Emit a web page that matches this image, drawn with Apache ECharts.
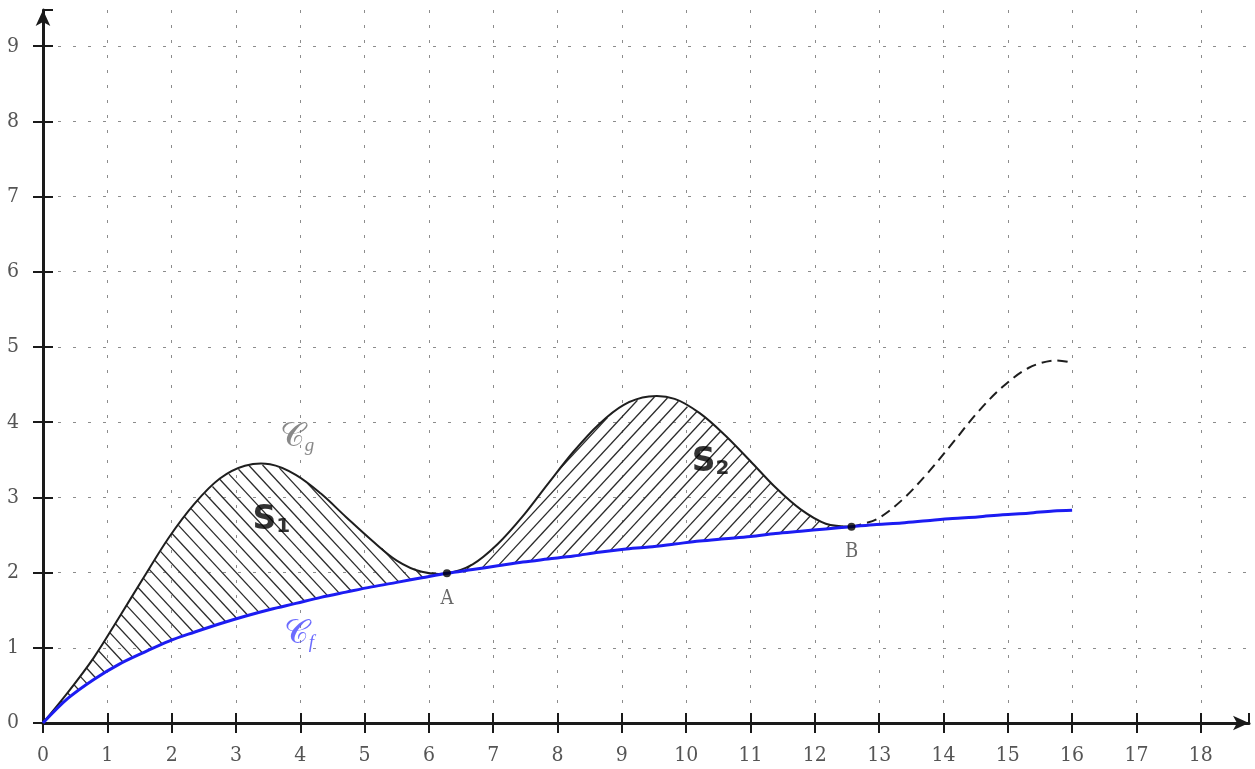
<!DOCTYPE html>
<html>
<head>
<meta charset="utf-8">
<script src="https://cdn.jsdelivr.net/npm/echarts@6/dist/echarts.min.js"></script>
<style>html,body{margin:0;padding:0;background:#fff}#c{width:1255px;height:769px}</style>
</head>
<body>
<div id="c"></div>
<script>
// x positions (multiples of pi/8, plus the end at 16)
const xs = [0, 0.39, 0.79, 1.18, 1.57, 1.96, 2.36, 2.75, 3.14, 3.53, 3.93, 4.32, 4.71, 5.11, 5.50, 5.89,
  6.28, 6.68, 7.07, 7.46, 7.85, 8.25, 8.64, 9.03, 9.42, 9.82, 10.21, 10.60, 11.00, 11.39, 11.78, 12.17,
  12.57, 12.96, 13.35, 13.74, 14.14, 14.53, 14.92, 15.32, 15.71, 16];
// blue curve C_f
const fVals = [0, 0.33, 0.58, 0.78, 0.94, 1.09, 1.21, 1.32, 1.42, 1.51, 1.59, 1.67, 1.74, 1.81, 1.87, 1.93,
  1.99, 2.04, 2.09, 2.14, 2.18, 2.22, 2.27, 2.31, 2.34, 2.38, 2.42, 2.45, 2.48, 2.52, 2.55, 2.58,
  2.61, 2.64, 2.66, 2.69, 2.72, 2.74, 2.77, 2.79, 2.82, 2.83];
// black curve C_g
const gVals = [0, 0.41, 0.87, 1.40, 1.94, 2.47, 2.92, 3.25, 3.42, 3.44, 3.30, 3.05, 2.74, 2.43, 2.16, 2.01,
  1.99, 2.11, 2.38, 2.75, 3.18, 3.61, 3.97, 4.23, 4.34, 4.31, 4.12, 3.83, 3.48, 3.13, 2.84, 2.65,
  2.61, 2.71, 2.96, 3.31, 3.72, 4.13, 4.47, 4.72, 4.82, 4.79];
const idxA = 16;   // index of point A in xs
const idxB = 32;   // index of point B in xs
const pointNames = ['A', 'B'];
const xTickLabels = ['0','1','2','3','4','5','6','7','8','9','10','11','12','13','14','15','16','17','18'];
const yTickLabels = ['0','1','2','3','4','5','6','7','8','9'];
// annotation texts at data coordinates
const annotations = [
  [3.95, 3.80, 'Cg'],
  [3.98, 1.18, 'Cf'],
  [3.55, 2.70, 'S1'],
  [10.38, 3.47, 'S2']
];

const SMOOTH = 0.34;

// hatching between C_g (top) and C_f (bottom) for data indices a..b, drawn through the axes' scales
function makeHatch(a, b, dir) {
  return function (params, api) {
    const top = [], bot = [];
    for (let k = a; k <= b; k++) {
      top.push(api.coord([xs[k], gVals[k]]));
      bot.push(api.coord([xs[k], fVals[k]]));
    }
    const at = (arr, px) => {
      for (let i = 0; i < arr.length - 1; i++) {
        const p = arr[i], q = arr[i + 1];
        if (px >= p[0] && px <= q[0]) {
          const t = (px - p[0]) / ((q[0] - p[0]) || 1);
          return p[1] + t * (q[1] - p[1]);
        }
      }
      return NaN;
    };
    const xL = top[0][0], xR = top[top.length - 1][0];
    const slope = 1.08 * dir;
    const inside = (px, c) => {
      const py = slope * px + c;
      return py >= at(top, px) - 0.2 && py <= at(bot, px) - 0.3;
    };
    const ys = top.concat(bot).map(p => p[1]);
    const yT = Math.min(...ys), yB = Math.max(...ys);
    const cands = [yT - slope * xL, yT - slope * xR, yB - slope * xL, yB - slope * xR];
    const cMin = Math.min(...cands), cMax = Math.max(...cands);
    const step = 14 * Math.abs(slope);
    const children = [];
    const push = (x1, x2, c) => {
      if (x2 - x1 < 0.8) return;
      children.push({ type: 'line', shape: { x1: x1, y1: slope * x1 + c, x2: x2, y2: slope * x2 + c },
        style: { stroke: '#2b2b2b', lineWidth: 1.3 } });
    };
    for (let c = Math.ceil(cMin / step) * step; c <= cMax; c += step) {
      let inSeg = false, sx = 0, prev = xL;
      for (let px = xL; px <= xR + 1e-6; px += 0.5) {
        const ins = inside(px, c);
        if (ins && !inSeg) { inSeg = true; sx = px; }
        else if (!ins && inSeg) { inSeg = false; push(sx, prev, c); }
        prev = px;
      }
      if (inSeg) push(sx, prev, c);
    }
    return { type: 'group', children: children };
  };
}

// smooth curve through the data points, positioned by the axes
function curve(arr, a, b, style, z) {
  return {
    type: 'custom', z: z, silent: true,
    data: [[xs[a], arr[a]]],
    renderItem: (params, api) => ({
      type: 'polyline',
      shape: { points: xs.slice(a, b + 1).map((x, i) => api.coord([x, arr[a + i]])), smooth: SMOOTH },
      style: Object.assign({ fill: 'none', lineJoin: 'round', lineCap: 'butt' }, style)
    })
  };
}

const last = xs.length - 1;
const lblFont = "'DejaVu Serif Condensed', 'Liberation Serif', serif";
const isInt = v => Math.abs(v - Math.round(v)) < 1e-6;

const annStyles = {
  Cg: { formatter: '{c|\u{1D49E}}{s|g}', rich: { c: { fontSize: 34, color: '#6a6a6a', fontFamily: 'serif' }, s: { fontSize: 19, color: '#6a6a6a', fontStyle: 'italic', fontFamily: 'serif', padding: [18, 0, 0, 0] } } },
  Cf: { formatter: '{c|\u{1D49E}}{s|f}', rich: { c: { fontSize: 34, color: '#4646ff', fontFamily: 'serif' }, s: { fontSize: 19, color: '#4646ff', fontStyle: 'italic', fontFamily: 'serif', padding: [18, 0, 0, 0] } } },
  S1: { formatter: '{a|S}{b|1}', rich: { a: { fontSize: 33, fontWeight: 'bold', color: '#000', fontFamily: 'DejaVu Sans' }, b: { fontSize: 20, fontWeight: 'bold', color: '#000', fontFamily: 'DejaVu Sans', padding: [14, 0, 0, 0] } } },
  S2: { formatter: '{a|S}{b|2}', rich: { a: { fontSize: 33, fontWeight: 'bold', color: '#000', fontFamily: 'DejaVu Sans' }, b: { fontSize: 20, fontWeight: 'bold', color: '#000', fontFamily: 'DejaVu Sans', padding: [14, 0, 0, 0] } } }
};

const axisCommon = {
  type: 'value', min: 0, interval: 1,
  axisLine: { show: true, onZero: false, lineStyle: { color: '#1a1a1a', width: 3 }, symbol: ['none', 'arrow'], symbolSize: [11, 16] },
  axisTick: { show: true, length: 10, lineStyle: { color: '#1a1a1a', width: 2 } },
  splitLine: { show: true, showMinLine: false, showMaxLine: false, lineStyle: { color: '#8c8c8c', width: 1, type: [3, 12] } }
};
const innerTicks = {
  type: 'value', min: 0, interval: 1,
  axisLine: { show: false }, axisLabel: { show: false }, splitLine: { show: false },
  axisTick: { show: true, inside: true, length: 10, lineStyle: { color: '#1a1a1a', width: 2 } }
};

const option = {
  animation: false,
  backgroundColor: '#fff',
  grid: { left: 43, right: 6, top: 10, bottom: 46, containLabel: false, outerBoundsMode: 'none' },
  xAxis: [
    Object.assign({}, axisCommon, { max: 18.75, position: 'bottom',
      axisLabel: { margin: 22, fontSize: 21, color: '#555', fontFamily: lblFont, showMaxLabel: false,
        formatter: v => isInt(v) ? (xTickLabels[Math.round(v)] || '') : '' } }),
    Object.assign({}, innerTicks, { max: 18.75, position: 'bottom' })
  ],
  yAxis: [
    Object.assign({}, axisCommon, { max: 9.48, position: 'left',
      axisLabel: { margin: 24, fontSize: 21, color: '#555', fontFamily: lblFont, showMaxLabel: false,
        formatter: v => isInt(v) ? (yTickLabels[Math.round(v)] || '') : '' } }),
    Object.assign({}, innerTicks, { max: 9.48, position: 'left' })
  ],
  series: [
    { type: 'custom', renderItem: makeHatch(0, idxA, 1), data: [[xs[0], fVals[0]]], z: 1, silent: true },
    { type: 'custom', renderItem: makeHatch(idxA, idxB, -1), data: [[xs[idxA], fVals[idxA]]], z: 1, silent: true },
    curve(gVals, 0, idxB, { stroke: '#1e1e1e', lineWidth: 2 }, 3),
    curve(gVals, idxB, last, { stroke: '#1e1e1e', lineWidth: 2, lineDash: [10, 6] }, 3),
    curve(fVals, 0, last, { stroke: '#1c1cf2', lineWidth: 3 }, 4),
    { type: 'scatter', data: [idxA, idxB].map((k, i) => ({ value: [xs[k], fVals[k]], name: pointNames[i] })),
      symbolSize: 8, itemStyle: { color: '#000' }, z: 6,
      label: { show: true, position: 'bottom', distance: 11, formatter: '{b}', fontSize: 20, color: '#444', fontFamily: lblFont } },
    { type: 'scatter', symbolSize: 0, z: 7,
      data: annotations.map(a => ({ value: [a[0], a[1]], label: Object.assign({ show: true, position: 'inside' }, annStyles[a[2]]) })) }
  ]
};
const chart = echarts.init(document.getElementById('c'), null, { renderer: 'canvas' });
chart.setOption(option);
</script>
</body>
</html>
